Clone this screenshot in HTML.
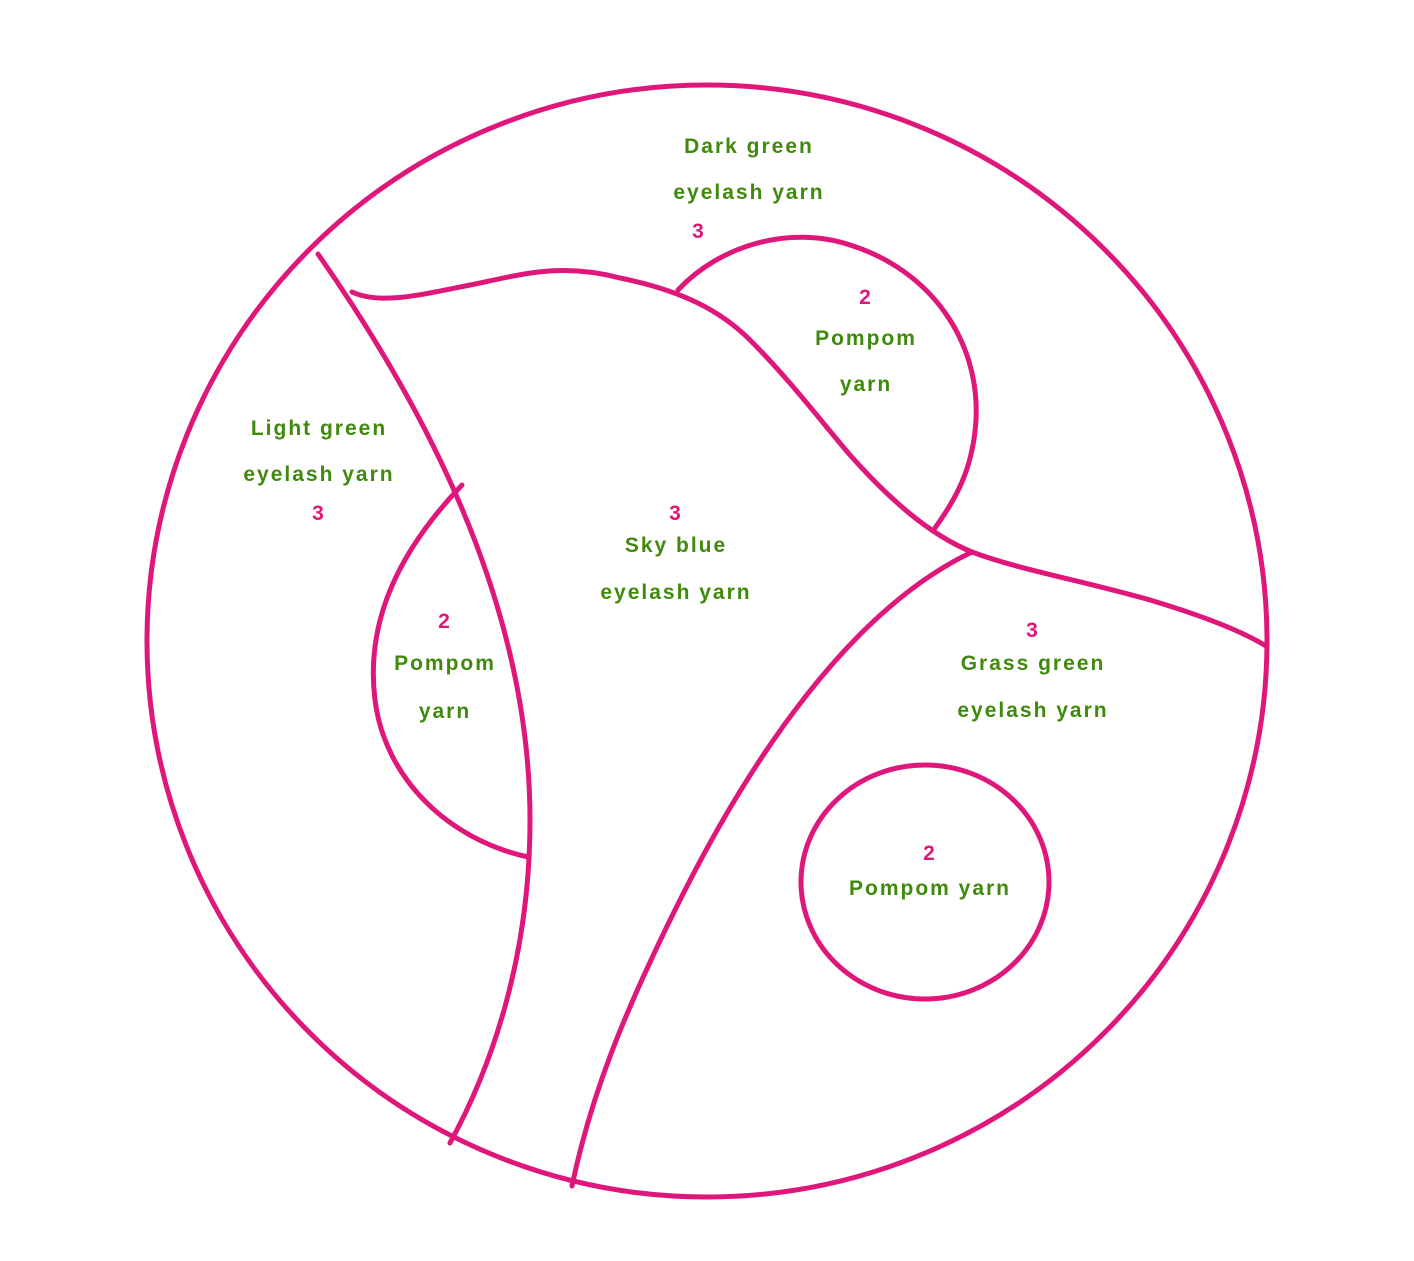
<!DOCTYPE html>
<html><head><meta charset="utf-8"><style>
html,body{margin:0;padding:0;background:#fff;width:1414px;height:1261px;overflow:hidden}
svg{display:block}
text{font-family:"Liberation Sans",sans-serif;font-weight:bold;font-size:21px;letter-spacing:2px;text-anchor:middle}
.g{fill:#3f8a0c}.p{fill:#e0177a}
</style></head><body>
<svg width="1414" height="1261" viewBox="0 0 1414 1261">
<g fill="none" stroke="#e0177a" stroke-width="5" stroke-linecap="round">
<ellipse cx="707" cy="641" rx="560" ry="556"/>
<path d="M318,254 C420,400 530,600 530,820 C530,960 490,1070 450,1143"/>
<path d="M352,292 C380,305 420,295 470,285 C520,275 560,262 620,278 C680,290 720,310 750,340 C790,380 820,420 850,455 C890,500 930,535 972,552 C1020,570 1080,580 1150,600 C1200,615 1240,630 1266,646"/>
<path d="M972,552 C850,610 750,760 680,900 C620,1020 590,1100 572,1186"/>
<path d="M678,290 C720,245 790,225 850,245 C930,270 980,340 976,420 C973,470 955,500 935,528"/>
<path d="M462,485 C400,550 365,620 375,700 C385,780 450,840 528,857"/>
<ellipse cx="925" cy="882" rx="124" ry="117"/>
</g>
<text class="g" x="749" y="153">Dark green</text>
<text class="g" x="749" y="199">eyelash yarn</text>
<text class="p" x="699" y="238">3</text>
<text class="p" x="866" y="304">2</text>
<text class="g" x="866" y="345">Pompom</text>
<text class="g" x="866" y="391">yarn</text>
<text class="g" x="319" y="435">Light green</text>
<text class="g" x="319" y="481">eyelash yarn</text>
<text class="p" x="319" y="520">3</text>
<text class="p" x="676" y="520">3</text>
<text class="g" x="676" y="552">Sky blue</text>
<text class="g" x="676" y="599">eyelash yarn</text>
<text class="p" x="445" y="628">2</text>
<text class="g" x="445" y="670">Pompom</text>
<text class="g" x="445" y="718">yarn</text>
<text class="p" x="1033" y="637">3</text>
<text class="g" x="1033" y="670">Grass green</text>
<text class="g" x="1033" y="717">eyelash yarn</text>
<text class="p" x="930" y="860">2</text>
<text class="g" x="930" y="895">Pompom yarn</text>
</svg>
</body></html>
